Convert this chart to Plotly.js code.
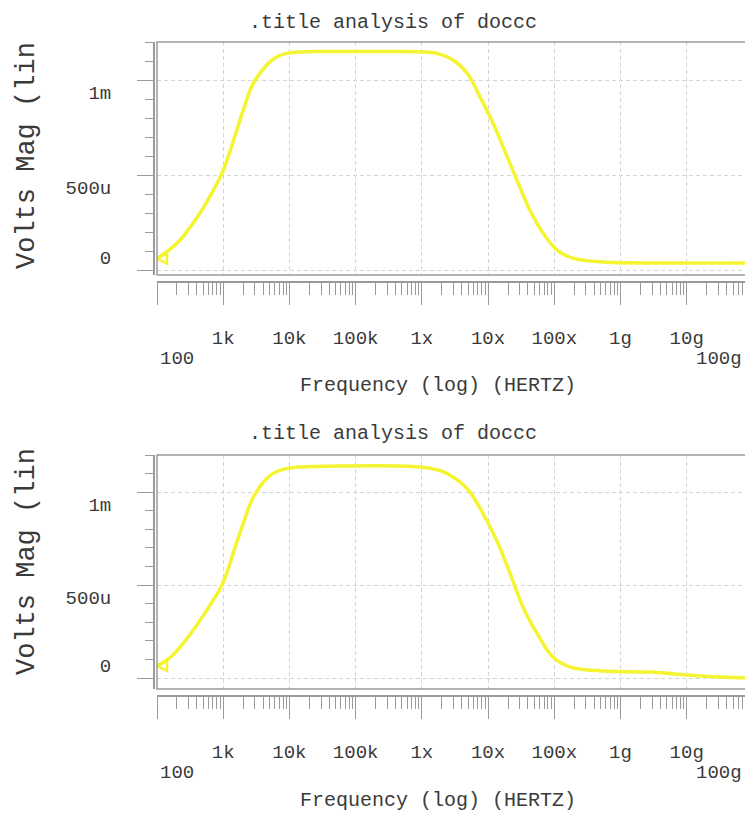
<!DOCTYPE html>
<html>
<head>
<meta charset="utf-8">
<script src="https://cdn.plot.ly/plotly-3.0.1.min.js"></script>
<style>
  html, body { margin: 0; padding: 0; background: #ffffff; overflow: hidden; }
  #chart { width: 745px; height: 816px; }
</style>
</head>
<body>
<div id="chart"></div>
<script>
// ---- data (frequency in Hz, magnitude in mV) ----
const freqTop = [100, 158, 224, 316, 447, 708, 832, 1000, 1200, 1410, 2000, 2820, 4570, 6310, 9120, 15850, 25000, 1e5, 4e5, 9.33e5, 1.7e6, 2.95e6, 4.8e6, 7.6e6, 1.2e7, 1.95e7, 2.75e7, 4.27e7, 6.76e7, 1.1e8, 1.9e8, 5.5e8, 5.6e9, 1e11];
const magTop  = [0.060, 0.110, 0.158, 0.225, 0.300, 0.420, 0.465, 0.525, 0.600, 0.675, 0.840, 0.980, 1.080, 1.120, 1.140, 1.148, 1.150, 1.150, 1.150, 1.148, 1.140, 1.105, 1.037, 0.910, 0.770, 0.595, 0.470, 0.316, 0.195, 0.105, 0.063, 0.042, 0.037, 0.037];

const freqBot = [100, 158, 224, 447, 708, 832, 1000, 1200, 1410, 2000, 2820, 4570, 6310, 1e4, 4.57e4, 9.33e5, 2.09e6, 4.79e6, 8.32e6, 1.35e7, 2.14e7, 3.39e7, 5.5e7, 9.55e7, 1.74e8, 5.5e8, 2.82e9, 1e10, 3.16e10, 1e11];
const magBot  = [0.065, 0.110, 0.167, 0.310, 0.420, 0.460, 0.515, 0.590, 0.670, 0.830, 0.970, 1.075, 1.110, 1.130, 1.140, 1.135, 1.110, 1.020, 0.887, 0.740, 0.565, 0.380, 0.240, 0.113, 0.059, 0.038, 0.032, 0.016, 0.005, 0.000];

const xTickVals   = [100, 1e3, 1e4, 1e5, 1e6, 1e7, 1e8, 1e9, 1e10];
const xTickLabels = ['', '1k', '10k', '100k', '1x', '10x', '100x', '1g', '10g'];
const xEndLabels  = ['100', '100g'];
const yTickVals   = [0, 0.5, 1];
const yTickLabels = ['0', '500u', '1m'];

const plotTitle = '.title analysis of doccc';
const xTitle = 'Frequency (log) (HERTZ)';
const yTitle = 'Volts Mag (lin';

// ---- layout helpers ----
const W = 745, H = 816;
const px = v => v / W;
const py = v => 1 - v / H;
const FONT = '"Liberation Mono", "Courier New", "DejaVu Sans Mono", monospace';
const TXT = '#3a3a3a';
const AX = '#9a9a9a';
const GRID = '#d4d4d4';
const CURVE = '#f4f431';

// y labels sit a little off their ticks in the original: nudge with an empty line
const yTickText = yTickLabels.map((t, i) => i === 0 ? t + '<br> ' : ' <br>' + t);

function xAxis(rulerPx) {
  return {
    type: 'log',
    range: [2, 10.88],
    domain: [px(157), 1],
    anchor: 'free',
    position: py(rulerPx),
    showline: true, linecolor: AX, linewidth: 1.5,
    ticks: 'outside', ticklen: 22, tickcolor: AX, tickwidth: 1,
    tickmode: 'array', tickvals: xTickVals, ticktext: xTickLabels,
    ticklabelstandoff: 17,
    tickfont: { family: FONT, size: 19, color: TXT },
    showgrid: true, gridcolor: GRID, griddash: '4px,3px', gridwidth: 1,
    minor: { dtick: 'D1', ticks: 'outside', ticklen: 12, tickcolor: AX, tickwidth: 1, showgrid: false },
    zeroline: false, fixedrange: true
  };
}
function yAxis(topPx, botPx, range) {
  return {
    range: range,
    domain: [py(botPx), py(topPx)],
    anchor: 'free',
    position: px(153),
    showline: true, linecolor: AX, linewidth: 1.5,
    ticks: 'outside', ticklen: 16, tickcolor: AX, tickwidth: 1,
    tickmode: 'array', tickvals: yTickVals, ticktext: yTickText,
    ticklabelstandoff: 22,
    tickfont: { family: FONT, size: 19, color: TXT },
    showgrid: true, gridcolor: GRID, griddash: '4px,3px', gridwidth: 1,
    minor: { dtick: 0.1, ticks: 'outside', ticklen: 8, tickcolor: AX, tickwidth: 1, showgrid: false },
    zeroline: false, fixedrange: true
  };
}

function curve(xs, ys, xa, ya) {
  return [{
    x: xs, y: ys, xaxis: xa, yaxis: ya,
    type: 'scatter', mode: 'lines',
    line: { color: CURVE, width: 3.5, shape: 'spline', smoothing: 1 },
    hoverinfo: 'skip', showlegend: false
  }, {
    x: [xs[0]], y: [ys[0]], xaxis: xa, yaxis: ya,
    type: 'scatter', mode: 'markers',
    marker: { symbol: 'arrow-left-open', size: 10, color: CURVE, line: { color: CURVE, width: 2.5 } },
    hoverinfo: 'skip', showlegend: false
  }];
}

const data = [
  ...curve(freqTop, magTop, 'x', 'y'),
  ...curve(freqBot, magBot, 'x2', 'y2')
];

function ann(text, x, y, opts) {
  return Object.assign({
    text: text, x: x, y: y, xref: 'paper', yref: 'paper',
    showarrow: false, xanchor: 'center', yanchor: 'middle',
    font: { family: FONT, size: 20, color: TXT }
  }, opts || {});
}

const annotations = [];
[[22, 359, 385, 156, 'x'], [433, 773, 800, 562, 'x2']].forEach(([tY, lowY, fY, vY, xr]) => {
  annotations.push(ann(plotTitle, px(393), py(tY)));
  annotations.push(ann(xTitle, px(438), py(fY)));
  annotations.push(ann(yTitle, px(27), py(vY), { textangle: -90, font: { family: FONT, size: 27, color: TXT } }));
  annotations.push(ann(xEndLabels[0], 2, py(lowY), { xref: xr, xanchor: 'left', xshift: 1, font: { family: FONT, size: 19, color: TXT } }));
  annotations.push(ann(xEndLabels[1], px(744), py(lowY), { xanchor: 'right', font: { family: FONT, size: 19, color: TXT } }));
});

const frame = (xr, yr) => ({
  type: 'rect', xref: xr + ' domain', yref: yr + ' domain',
  x0: 0, x1: 1.02, y0: 0, y1: 1,
  line: { color: AX, width: 1.5 }, layer: 'above'
});

const layout = {
  width: W, height: H,
  margin: { l: 0, r: 0, t: 0, b: 0 },
  paper_bgcolor: '#ffffff', plot_bgcolor: '#ffffff',
  showlegend: false,
  xaxis: xAxis(281),
  yaxis: yAxis(42, 275, [-0.026, 1.2]),
  xaxis2: xAxis(695),
  yaxis2: yAxis(455, 689, [-0.059, 1.2]),
  annotations: annotations,
  shapes: [frame('x', 'y'), frame('x2', 'y2')]
};

Plotly.newPlot('chart', data, layout, { displayModeBar: false, staticPlot: true });
</script>
</body>
</html>
